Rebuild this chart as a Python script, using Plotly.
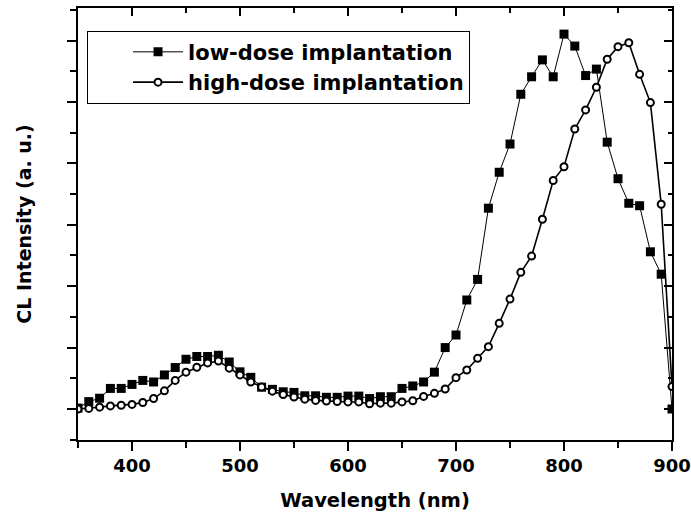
import plotly.graph_objects as go

# Wavelength grid (nm) and cathodoluminescence intensities (arbitrary units)
wavelength = list(range(350, 901, 10))

low_dose = [
    0.003, 0.024, 0.035, 0.067, 0.067, 0.080, 0.093, 0.088, 0.111, 0.135,
    0.162, 0.171, 0.171, 0.175, 0.153, 0.121, 0.103, 0.071, 0.064, 0.056,
    0.054, 0.043, 0.043, 0.038, 0.038, 0.042, 0.042, 0.034, 0.040, 0.040,
    0.067, 0.075, 0.088, 0.120, 0.200, 0.241, 0.355, 0.422, 0.654, 0.771,
    0.863, 1.025, 1.082, 1.137, 1.082, 1.221, 1.182, 1.086, 1.107, 0.869,
    0.750, 0.670, 0.662, 0.512, 0.439, 0.000,
]

high_dose = [
    0.000, 0.002, 0.006, 0.010, 0.012, 0.015, 0.021, 0.034, 0.059, 0.093,
    0.120, 0.136, 0.150, 0.156, 0.133, 0.111, 0.088, 0.072, 0.058, 0.047,
    0.039, 0.032, 0.028, 0.026, 0.024, 0.023, 0.023, 0.017, 0.019, 0.019,
    0.023, 0.027, 0.041, 0.051, 0.065, 0.102, 0.127, 0.165, 0.203, 0.279,
    0.358, 0.445, 0.498, 0.618, 0.744, 0.789, 0.912, 0.974, 1.048, 1.139,
    1.180, 1.193, 1.090, 0.998, 0.667, 0.073,
]

series_names = ["low-dose implantation", "high-dose implantation"]

x_range = [350, 900]
y_range = [-0.101, 1.306]

FONT = "DejaVu Sans"

fig = go.Figure()

fig.add_trace(go.Scatter(
    x=wavelength, y=low_dose, name=series_names[0], mode="lines+markers",
    line=dict(color="black", width=1),
    marker=dict(symbol="square", size=9, color="black", line=dict(width=0)),
))
fig.add_trace(go.Scatter(
    x=wavelength, y=high_dose, name=series_names[1], mode="lines+markers",
    line=dict(color="black", width=1.6),
    marker=dict(symbol="circle", size=7, color="white",
                line=dict(color="black", width=2)),
))
# empty trace that puts the top/right tick axes on a subplot of their own
fig.add_trace(go.Scatter(
    x=[], y=[], xaxis="x2", yaxis="y2", mode="markers",
    showlegend=False, hoverinfo="skip",
))

common = dict(showgrid=False, zeroline=False, showline=True,
              linecolor="black", linewidth=1.5,
              tickcolor="black", tickwidth=1.5, automargin=False)

fig.update_layout(
    width=691, height=517,
    margin=dict(l=78, r=19, t=8, b=77),
    plot_bgcolor="white", paper_bgcolor="white",
    font=dict(family=FONT, color="black"),
    # bottom / left axes: outward ticks, frame line mirrored
    xaxis=dict(
        range=x_range, tick0=400, dtick=100, ticks="outside", ticklen=9,
        mirror=True,
        tickfont=dict(family=FONT, size=18, weight="bold"),
        minor=dict(tick0=350, dtick=50, ticks="outside", ticklen=6,
                   tickcolor="black", tickwidth=1.5, showgrid=False),
        title=dict(text="Wavelength (nm)", standoff=18,
                   font=dict(family=FONT, size=19.5, weight="bold")),
        **common,
    ),
    yaxis=dict(
        range=y_range, tick0=0, dtick=0.2, ticks="outside", ticklen=9,
        mirror=True, showticklabels=False,
        minor=dict(tick0=0, dtick=0.1, ticks="outside", ticklen=6,
                   tickcolor="black", tickwidth=1.5, showgrid=False),
        title=dict(text="CL Intensity (a. u.)", standoff=31,
                   font=dict(family=FONT, size=19, weight="bold")),
        **common,
    ),
    # top / right axes: inward ticks
    xaxis2=dict(
        overlaying="x", side="top", anchor="y2", range=x_range,
        tick0=400, dtick=100, ticks="inside", ticklen=8, showticklabels=False,
        minor=dict(tick0=350, dtick=50, ticks="inside", ticklen=5,
                   tickcolor="black", tickwidth=1.5, showgrid=False),
        **common,
    ),
    yaxis2=dict(
        overlaying="y", side="right", anchor="x2", range=y_range,
        tick0=0, dtick=0.2, ticks="inside", ticklen=8, showticklabels=False,
        minor=dict(tick0=0, dtick=0.1, ticks="inside", ticklen=4,
                   tickcolor="black", tickwidth=1.5, showgrid=False),
        **common,
    ),
    legend=dict(
        x=0.0152, y=0.9475, xanchor="left", yanchor="top",
        bgcolor="white", bordercolor="black", borderwidth=1,
        font=dict(family=FONT, size=21, color="black", weight="bold"),
        indentation=40, itemwidth=50,
    ),
    showlegend=True,
)

fig.write_html("out.html")
